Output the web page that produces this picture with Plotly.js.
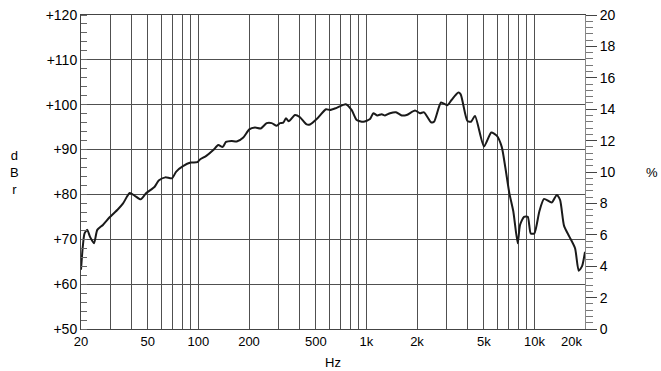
<!DOCTYPE html>
<html>
<head>
<meta charset="utf-8">
<script src="https://cdn.plot.ly/plotly-3.0.1.min.js"></script>
<style>html,body{margin:0;padding:0;background:#fff;}#chart{width:661px;height:371px;}</style>
</head>
<body>
<div id="chart"></div>
<script>
// Frequency response (Hz) and level (dB)
var freqHz = [20, 20.5, 21.0, 21.8, 22.6, 23.9, 25.0, 27.0, 29.6, 33.2, 35.6, 39.0, 41.8, 45.3, 48.9,
  54.9, 58.0, 63.5, 69.6, 73.8, 80.9, 89.9, 98.5, 102.2, 111.4, 122.6, 131.3, 139.5, 145.9, 157.8,
  169.0, 185.0, 200.8, 217.1, 234.8, 254.9, 273.0, 292.4, 305.9, 320.1, 332.1, 344.6, 375.6, 402.3,
  441.0, 461.4, 505.8, 574.6, 607.0, 665.4, 752.7, 817.4, 875.3, 958.1, 1050, 1099, 1161, 1233,
  1290, 1382, 1500, 1622, 1737, 1946, 2084, 2202, 2424, 2526, 2780, 3030, 3219, 3524, 3641, 3987,
  4193, 4430, 5011, 5539, 5964, 6389, 6711, 7089, 7489, 7954, 8209, 8672, 9124, 9506, 9986, 10695,
  11410, 12680, 13580, 14210, 15010, 16140, 17450, 18350, 19210, 20000];
var levelDb = [63.2, 68.4, 71.3, 72.1, 70.6, 69.1, 72.1, 73.2, 74.9, 76.7, 78.0, 80.3, 79.7, 78.9, 80.3,
  81.7, 83.1, 83.8, 83.6, 85.1, 86.3, 87.1, 87.2, 87.8, 88.6, 89.9, 91.0, 90.6, 91.7, 91.9,
  91.8, 92.7, 94.5, 94.9, 94.7, 95.9, 95.9, 95.3, 95.9, 96.0, 97.0, 96.3, 97.7, 97.2,
  95.6, 95.6, 96.8, 99.0, 98.8, 99.3, 100.1, 98.8, 96.6, 96.2, 96.8, 98.1, 97.6, 97.9,
  97.6, 98.1, 98.3, 97.6, 97.7, 98.7, 98.1, 98.3, 96.1, 96.2, 100.5, 99.9, 101.1, 102.7, 102.3, 96.4,
  96.2, 97.5, 90.7, 93.8, 93.1, 90.6, 86.0, 80.3, 76.2, 69.1, 73.2, 75.0, 75.0, 71.3, 71.3, 76.2,
  79.0, 78.2, 79.9, 78.8, 73.0, 70.6, 68.0, 63.0, 64.0, 67.2];

// Axis labels
var xTickVals = [20, 50, 100, 200, 500, 1000, 2000, 5000, 10000, 20000];
var xTickText = ['20', '50', '100', '200', '500', '1k', '2k', '5k', '10k', ''];
var xGridVals = [30, 40, 60, 70, 80, 90, 300, 400, 600, 700, 800, 900,
  3000, 4000, 6000, 7000, 8000, 9000];
var yTickVals = [50, 60, 70, 80, 90, 100, 110, 120];
var yTickText = ['+50', '+60', '+70', '+80', '+90', '+100', '+110', '+120'];
var y2TickVals = [0, 2, 4, 6, 8, 10, 12, 14, 16, 18, 20];

var gridC = '#505050';
var fam = 'Liberation Sans, Arial, sans-serif';
var fnt = {family: fam, size: 13, color: '#000'};
var fntY = {family: fam, size: 14, color: '#000'};

var trace = {
  x: freqHz, y: levelDb, type: 'scatter', mode: 'lines',
  line: {color: '#1a1a1a', width: 2, shape: 'spline', smoothing: 0.6},
  hoverinfo: 'skip', showlegend: false
};
var dummy = {x: [20], y: [0], yaxis: 'y2', type: 'scatter', mode: 'markers',
  marker: {opacity: 0}, hoverinfo: 'skip', showlegend: false};

var layout = {
  width: 661, height: 371,
  margin: {l: 81, r: 76, t: 15, b: 42},
  paper_bgcolor: '#fff', plot_bgcolor: '#fff',
  font: fnt,
  xaxis: {
    type: 'log', range: [Math.log10(20), Math.log10(20000)],
    tickmode: 'array', tickvals: xTickVals, ticktext: xTickText,
    showgrid: true, gridcolor: gridC, gridwidth: 1,
    ticks: '', showline: true, linecolor: '#444', linewidth: 1, mirror: true,
    zeroline: false, tickfont: fnt,
    minor: {tickmode: 'array', tickvals: xGridVals, showgrid: true, gridcolor: gridC, gridwidth: 1, ticks: ''},
    title: {text: 'Hz', font: fnt, standoff: 10}
  },
  yaxis: {
    range: [50, 120], tickmode: 'array', tickvals: yTickVals, ticktext: yTickText,
    showgrid: true, gridcolor: gridC, gridwidth: 1,
    ticks: '', showline: true, linecolor: '#444', linewidth: 1, mirror: true,
    zeroline: false, tickfont: fntY,
    minor: {dtick: 2, ticks: 'inside', ticklen: 6, tickcolor: '#666', tickwidth: 1, showgrid: false}
  },
  yaxis2: {
    overlaying: 'y', side: 'right', range: [0, 20],
    tickmode: 'array', tickvals: y2TickVals, ticktext: y2TickVals.map(String),
    showgrid: false, zeroline: false, showline: true, linecolor: '#888', linewidth: 1,
    ticks: 'outside', ticklen: 11, tickcolor: '#444', tickwidth: 1, tickfont: fntY,
    minor: {dtick: 0.4, ticks: 'outside', ticklen: 7, tickcolor: '#777', tickwidth: 1}
  },
  annotations: [
    {text: 'd<br>B<br>r', xref: 'paper', yref: 'paper', x: -0.132, y: 0.5, xanchor: 'center', yanchor: 'middle',
     showarrow: false, font: fnt, align: 'center'},
    {text: '%', xref: 'paper', yref: 'paper', x: 1.132, y: 0.5, xanchor: 'center', yanchor: 'middle',
     showarrow: false, font: fnt},
    {text: '20k', xref: 'x', yref: 'paper', x: Math.log10(20000), y: 0, xanchor: 'right', yanchor: 'top',
     xshift: -1, yshift: -3, showarrow: false, font: fnt}
  ]
};

Plotly.newPlot('chart', [trace, dummy], layout, {staticPlot: true, displayModeBar: false});
</script>
</body>
</html>
